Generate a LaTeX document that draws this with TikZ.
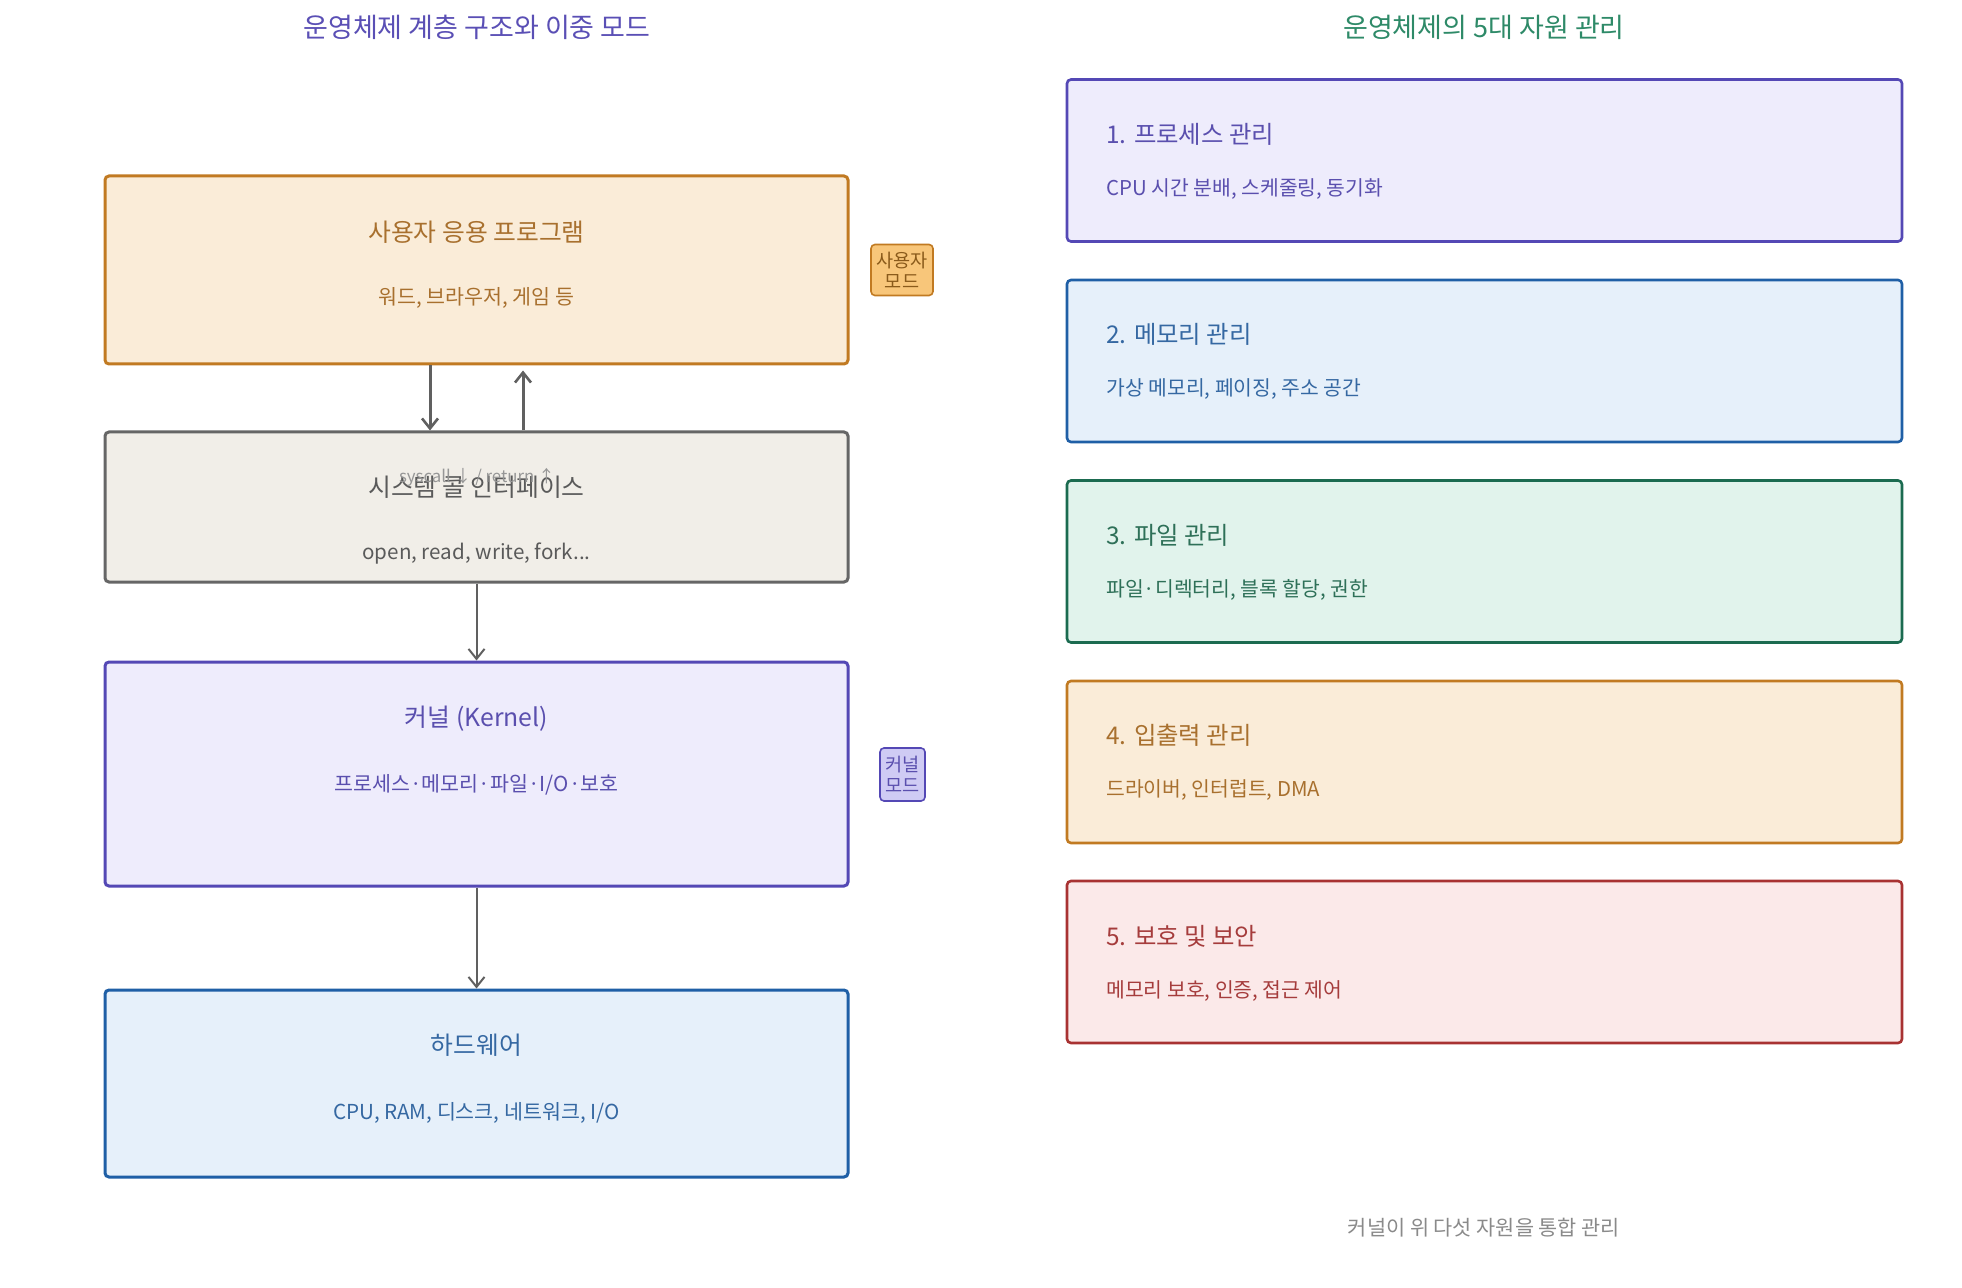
\documentclass[tikz,border=0pt]{standalone}
\usepackage{fontspec}
\setmainfont{Noto Sans CJK KR}
\usetikzlibrary{arrows.meta}
\definecolor{orB}{HTML}{C17A22}\definecolor{orF}{HTML}{FAECD8}\definecolor{orT}{HTML}{A8702E}
\definecolor{grB}{HTML}{666666}\definecolor{grF}{HTML}{F1EEE8}\definecolor{grT}{HTML}{5A5A5A}
\definecolor{puB}{HTML}{5448B5}\definecolor{puF}{HTML}{EEECFC}\definecolor{puT}{HTML}{5A4FAE}
\definecolor{blB}{HTML}{1F5FA6}\definecolor{blF}{HTML}{E6F0FA}\definecolor{blT}{HTML}{3568A2}
\definecolor{gnB}{HTML}{1B6B50}\definecolor{gnF}{HTML}{E1F3EC}\definecolor{gnT}{HTML}{2E7058}
\definecolor{rdB}{HTML}{A83232}\definecolor{rdF}{HTML}{FBE9E9}\definecolor{rdT}{HTML}{A53C3C}
\definecolor{tagOF}{HTML}{F8C67A}\definecolor{tagOT}{HTML}{8A5A1A}
\definecolor{tagPF}{HTML}{CFCBF4}
\definecolor{arrC}{HTML}{606060}
\definecolor{titL}{HTML}{5A4FB5}\definecolor{titR}{HTML}{2E8A68}
\definecolor{footC}{HTML}{8A8A8A}
\begin{document}
\begin{tikzpicture}[x=0.5pt,y=-0.5pt,
  lbox/.style={draw, line width=1.5pt, rounded corners=2pt, minimum width=371.5pt, inner sep=0pt},
  rbox/.style={draw, line width=1.3pt, rounded corners=2pt, minimum width=417.5pt, minimum height=81pt, inner sep=0pt},
  ttl/.style={font=\fontsize{12.4pt}{14pt}\selectfont, inner sep=0pt},
  sub/.style={font=\fontsize{10.3pt}{12pt}\selectfont, inner sep=0pt},
  rttl/.style={font=\fontsize{12.2pt}{14pt}\selectfont, inner sep=0pt, anchor=west},
  rsub/.style={font=\fontsize{10.2pt}{12pt}\selectfont, inner sep=0pt, anchor=west},
  head/.style={font=\fontsize{13.5pt}{15pt}\selectfont, inner sep=0pt},
  tag/.style={draw, line width=0.8pt, rounded corners=2pt, align=center, inner sep=0pt, font=\fontsize{9.3pt}{10.6pt}\selectfont},
  arrthick/.style={draw=arrC, line width=1.5pt, -{Straight Barb[length=5pt,width=8pt,line width=1.3pt]}},
  arrthin/.style={draw=arrC, line width=1pt, -{Straight Barb[length=5pt,width=8pt,line width=1pt]}}
]
\useasboundingbox[fill=white] (0,0) rectangle (1962,1288);

% headings
\node[head, text=titL] (hL) at (477,27) {운영체제 계층 구조와 이중 모드};
\node[head, text=titR] (hR) at (1484,27) {운영체제의 5대 자원 관리};

% left stack
\node[lbox, draw=orB, fill=orF, minimum height=94pt] (app) at (476.5,270) {};
\node[ttl, text=orT] (appT) at (476.5,232) {사용자 응용 프로그램};
\node[sub, text=orT] (appS) at (476.5,298) {워드, 브라우저, 게임 등};

\node[lbox, draw=grB, fill=grF, minimum height=75pt] (sys) at (476.5,507) {};
\node[ttl, text=grT] (sysT) at (476.5,487) {시스템 콜 인터페이스};
\node[sub, text=grT] (sysS) at (476.5,554) {open, read, write, fork...};

\node[lbox, draw=puB, fill=puF, minimum height=112pt] (ker) at (476.5,774) {};
\node[ttl, text=puT] (kerT) at (476.5,719) {커널 (Kernel)};
\node[sub, text=puT] (kerS) at (476.5,785) {프로세스·메모리·파일·I/O·보호};

\node[lbox, draw=blB, fill=blF, minimum height=93.5pt] (hw) at (476.5,1083.5) {};
\node[ttl, text=blT] (hwT) at (476.5,1045) {하드웨어};
\node[sub, text=blT] (hwS) at (476.5,1113) {CPU, RAM, 디스크, 네트워크, I/O};

% mode tags
\node[tag, draw=orB, fill=tagOF, text=tagOT, minimum width=31pt, minimum height=25.5pt] (tagU) at (902,270) {사용자\\모드};
\node[tag, draw=puB, fill=tagPF, text=puT, minimum width=22.5pt, minimum height=26.5pt] (tagK) at (902.5,774.5) {커널\\모드};

% arrows
\coordinate (dn) at (430,0);
\coordinate (up) at (523,0);
\draw[arrthick] (app.south -| dn) -- (sys.north -| dn);
\draw[arrthick] (sys.north -| up) -- ([yshift=-2.5pt]app.south -| up);
\draw[arrthin] (sys.south) -- (ker.north);
\draw[arrthin] (ker.south) -- (hw.north);
\node[font=\fontsize{8.4pt}{9.5pt}\selectfont, text=footC!90, inner sep=0pt] (sc) at (477,477) {syscall ↓ / return ↑};

% right column
\node[rbox, draw=puB, fill=puF] (r1) at (1484.5,160.5) {};
\node[rttl, text=puT] (r1T) at (1106,134) {1. 프로세스 관리};
\node[rsub, text=puT] (r1S) at (1106,189) {CPU 시간 분배, 스케줄링, 동기화};

\node[rbox, draw=blB, fill=blF] (r2) at (1484.5,361) {};
\node[rttl, text=blT] (r2T) at (1106,334) {2. 메모리 관리};
\node[rsub, text=blT] (r2S) at (1106,389) {가상 메모리, 페이징, 주소 공간};

\node[rbox, draw=gnB, fill=gnF] (r3) at (1484.5,561.5) {};
\node[rttl, text=gnT] (r3T) at (1106,535) {3. 파일 관리};
\node[rsub, text=gnT] (r3S) at (1106,590) {파일·디렉터리, 블록 할당, 권한};

\node[rbox, draw=orB, fill=orF] (r4) at (1484.5,762) {};
\node[rttl, text=orT] (r4T) at (1106,735) {4. 입출력 관리};
\node[rsub, text=orT] (r4S) at (1106,790) {드라이버, 인터럽트, DMA};

\node[rbox, draw=rdB, fill=rdF] (r5) at (1484.5,962) {};
\node[rttl, text=rdT] (r5T) at (1106,936) {5. 보호 및 보안};
\node[rsub, text=rdT] (r5S) at (1106,991) {메모리 보호, 인증, 접근 제어};

\node[font=\fontsize{10.4pt}{12pt}\selectfont, inner sep=0pt, text=footC] (foot) at (1484,1228) {커널이 위 다섯 자원을 통합 관리};
\end{tikzpicture}
\end{document}
